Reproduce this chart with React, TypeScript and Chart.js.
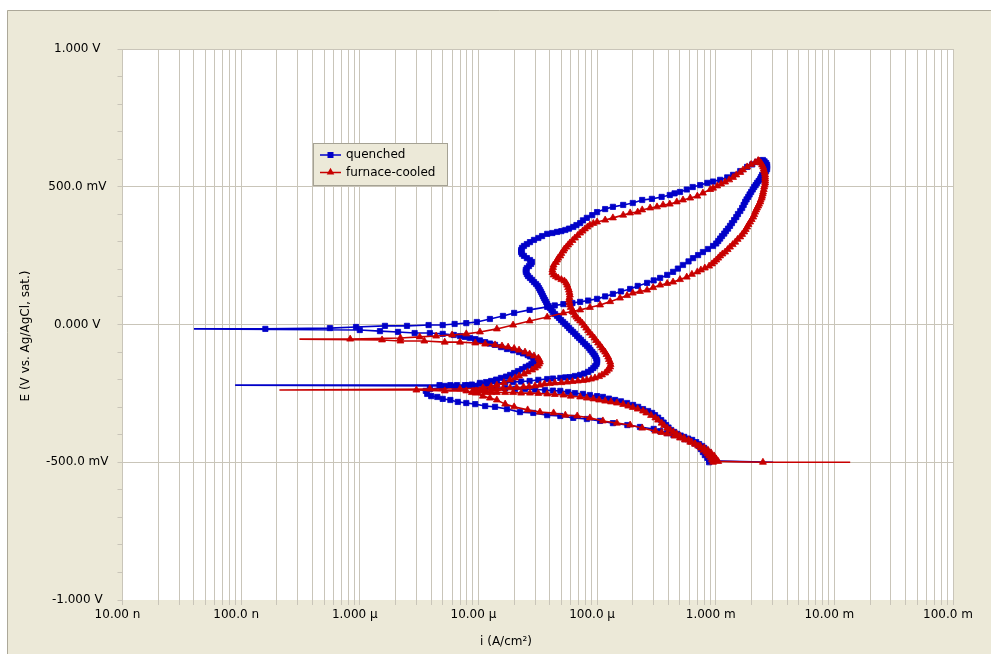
import React, { useEffect, useRef } from 'react';
import { Chart, registerables } from 'chart.js';

Chart.register(...registerables);

// ---------- axis tick values / labels ----------
const xDecades = [1e-8, 1e-7, 1e-6, 1e-5, 1e-4, 1e-3, 1e-2, 1e-1];
const xDecadeLabels = ['10.00 n', '100.0 n', '1.000 \u00B5', '10.00 \u00B5', '100.0 \u00B5', '1.000 m', '10.00 m', '100.0 m'];
const xMinorSteps = [1, 2, 3, 4, 5, 6, 7, 8, 9];
const yMajorValues = [1, 0.5, 0, -0.5, -1];
const yMajorLabels = ['1.000 V', '500.0 mV', '0.000 V', '-500.0 mV', '-1.000 V'];
const seriesNames = ['quenched', 'furnace-cooled'];
const xTitle = 'i (A/cm\u00B2)';
const yTitle = 'E (V vs. Ag/AgCl, sat.)';

// ---------- data: [E (V), i (A/cm²)] in scan order ----------
const quenched: [number, number][] = [
  [-0.500, 3.05e-3], [-0.495, 9.3e-4], [-0.490, 8.8e-4], [-0.484, 8.5e-4], [-0.474, 8.1e-4],
  [-0.463, 7.8e-4], [-0.452, 7.5e-4], [-0.441, 7.2e-4], [-0.432, 6.7e-4], [-0.423, 6.1e-4],
  [-0.416, 5.5e-4], [-0.408, 5.0e-4], [-0.401, 4.4e-4], [-0.394, 3.9e-4], [-0.387, 3.4e-4],
  [-0.379, 3.0e-4], [-0.372, 2.3e-4], [-0.365, 1.8e-4], [-0.358, 1.36e-4], [-0.350, 1.06e-4],
  [-0.343, 8.2e-5], [-0.339, 6.3e-5], [-0.332, 4.9e-5], [-0.329, 3.8e-5], [-0.321, 2.9e-5],
  [-0.318, 2.24e-5], [-0.307, 1.74e-5], [-0.299, 1.38e-5], [-0.296, 1.14e-5], [-0.289, 9.4e-6],
  [-0.285, 7.9e-6], [-0.281, 6.7e-6], [-0.274, 5.8e-6], [-0.270, 5.0e-6], [-0.263, 4.5e-6],
  [-0.260, 4.0e-6], [-0.252, 3.7e-6], [-0.241, 3.6e-6],
  [-0.234, 3.9e-6], [-0.230, 4.9e-6], [-0.227, 6.3e-6], [-0.220, 8.2e-6], [-0.212, 1.03e-5],
  [-0.209, 1.16e-5], [-0.205, 1.28e-5], [-0.200, 1.41e-5], [-0.194, 1.55e-5], [-0.189, 1.71e-5],
  [-0.183, 1.85e-5], [-0.176, 2.0e-5], [-0.169, 2.16e-5], [-0.162, 2.33e-5], [-0.154, 2.5e-5],
  [-0.149, 2.67e-5], [-0.143, 2.8e-5], [-0.138, 2.94e-5], [-0.132, 3.0e-5], [-0.127, 2.97e-5],
  [-0.122, 2.9e-5], [-0.116, 2.72e-5], [-0.111, 2.6e-5], [-0.105, 2.38e-5], [-0.100, 2.2e-5],
  [-0.094, 1.96e-5], [-0.089, 1.74e-5], [-0.082, 1.55e-5], [-0.074, 1.38e-5], [-0.069, 1.25e-5],
  [-0.064, 1.14e-5], [-0.058, 1.03e-5], [-0.053, 9.4e-6], [-0.049, 8.5e-6], [-0.045, 7.7e-6],
  [-0.042, 7.0e-6], [-0.038, 6.2e-6], [-0.034, 5.0e-6], [-0.031, 3.9e-6], [-0.031, 2.9e-6],
  [-0.027, 2.1e-6], [-0.024, 1.48e-6], [-0.020, 1.0e-6], [-0.016, 4.0e-8], [-0.016, 1.6e-7],
  [-0.013, 5.6e-7], [-0.009, 9.3e-7], [-0.005, 1.63e-6], [-0.005, 2.5e-6], [-0.002, 3.8e-6],
  [-0.002, 5.0e-6], [0.002, 6.3e-6], [0.005, 7.9e-6], [0.009, 9.7e-6], [0.020, 1.25e-5],
  [0.031, 1.61e-5], [0.042, 2.0e-5], [0.053, 2.7e-5], [0.064, 3.8e-5], [0.069, 4.4e-5],
  [0.074, 5.2e-5], [0.078, 6.2e-5], [0.082, 7.2e-5], [0.087, 8.4e-5], [0.093, 1.0e-4],
  [0.102, 1.17e-4], [0.111, 1.36e-4], [0.120, 1.59e-4], [0.129, 1.9e-4], [0.140, 2.2e-4],
  [0.151, 2.64e-4], [0.160, 3.0e-4], [0.169, 3.4e-4], [0.180, 3.9e-4], [0.191, 4.37e-4],
  [0.203, 4.8e-4], [0.216, 5.3e-4], [0.229, 5.9e-4], [0.241, 6.45e-4], [0.252, 7.1e-4],
  [0.263, 7.8e-4], [0.274, 8.6e-4], [0.285, 9.5e-4], [0.294, 1.01e-3], [0.303, 1.05e-3],
  [0.312, 1.09e-3], [0.321, 1.13e-3], [0.330, 1.18e-3], [0.339, 1.22e-3], [0.348, 1.27e-3],
  [0.358, 1.32e-3], [0.368, 1.37e-3], [0.379, 1.43e-3], [0.390, 1.49e-3], [0.401, 1.54e-3],
  [0.412, 1.61e-3], [0.423, 1.67e-3], [0.434, 1.72e-3], [0.445, 1.77e-3], [0.454, 1.82e-3],
  [0.463, 1.88e-3], [0.472, 1.93e-3], [0.481, 1.99e-3], [0.490, 2.05e-3], [0.499, 2.11e-3],
  [0.506, 2.17e-3], [0.514, 2.23e-3], [0.521, 2.30e-3], [0.528, 2.37e-3], [0.535, 2.41e-3],
  [0.543, 2.46e-3], [0.550, 2.56e-3], [0.557, 2.66e-3], [0.564, 2.71e-3], [0.572, 2.71e-3],
  [0.579, 2.71e-3], [0.586, 2.66e-3], [0.592, 2.58e-3], [0.597, 2.5e-3],
  // reverse scan
  [0.595, 2.37e-3], [0.590, 2.23e-3], [0.581, 2.03e-3], [0.572, 1.84e-3], [0.557, 1.61e-3],
  [0.543, 1.40e-3], [0.534, 1.25e-3], [0.525, 1.09e-3], [0.519, 9.5e-4], [0.514, 8.5e-4],
  [0.506, 7.4e-4], [0.499, 6.4e-4], [0.490, 5.7e-4], [0.481, 5.0e-4], [0.476, 4.5e-4],
  [0.470, 4.1e-4], [0.463, 3.5e-4], [0.456, 2.9e-4], [0.452, 2.4e-4], [0.441, 2.0e-4],
  [0.434, 1.66e-4], [0.427, 1.36e-4], [0.419, 1.17e-4], [0.408, 1.0e-4], [0.397, 9.1e-5],
  [0.387, 8.2e-5], [0.378, 7.6e-5], [0.368, 7.2e-5], [0.361, 6.7e-5], [0.354, 6.3e-5],
  [0.348, 5.8e-5], [0.343, 5.4e-5], [0.339, 5.0e-5], [0.336, 4.6e-5], [0.332, 4.2e-5],
  [0.329, 3.8e-5], [0.321, 3.44e-5], [0.314, 3.2e-5], [0.307, 2.94e-5], [0.299, 2.72e-5],
  [0.292, 2.56e-5], [0.285, 2.42e-5], [0.278, 2.33e-5], [0.270, 2.29e-5], [0.263, 2.29e-5],
  [0.256, 2.33e-5], [0.249, 2.42e-5], [0.241, 2.56e-5], [0.234, 2.72e-5], [0.227, 2.83e-5],
  [0.220, 2.78e-5], [0.212, 2.67e-5], [0.205, 2.56e-5], [0.198, 2.51e-5], [0.191, 2.51e-5],
  [0.183, 2.56e-5], [0.176, 2.62e-5], [0.169, 2.72e-5], [0.162, 2.83e-5], [0.154, 2.94e-5],
  [0.147, 3.06e-5], [0.140, 3.16e-5], [0.132, 3.24e-5], [0.125, 3.31e-5], [0.118, 3.37e-5],
  [0.111, 3.44e-5], [0.103, 3.5e-5], [0.096, 3.57e-5], [0.089, 3.64e-5], [0.082, 3.72e-5],
  [0.074, 3.79e-5], [0.067, 3.9e-5], [0.060, 4.01e-5], [0.053, 4.13e-5], [0.045, 4.25e-5],
  [0.038, 4.42e-5], [0.031, 4.6e-5], [0.024, 4.78e-5], [0.016, 4.97e-5], [0.009, 5.17e-5],
  [0.002, 5.38e-5], [-0.005, 5.6e-5], [-0.013, 5.81e-5], [-0.020, 6.04e-5], [-0.027, 6.28e-5],
  [-0.034, 6.53e-5], [-0.042, 6.79e-5], [-0.049, 7.06e-5], [-0.056, 7.33e-5], [-0.064, 7.62e-5],
  [-0.071, 7.93e-5], [-0.078, 8.24e-5], [-0.085, 8.57e-5], [-0.093, 8.8e-5], [-0.100, 9.12e-5],
  [-0.107, 9.35e-5], [-0.114, 9.64e-5], [-0.122, 9.8e-5], [-0.129, 1.0e-4], [-0.136, 1.0e-4],
  [-0.143, 9.9e-5], [-0.151, 9.64e-5], [-0.158, 9.3e-5], [-0.165, 8.9e-5], [-0.172, 8.4e-5],
  [-0.178, 7.8e-5], [-0.183, 7.2e-5], [-0.187, 6.5e-5], [-0.191, 5.9e-5], [-0.192, 5.4e-5],
  [-0.194, 4.9e-5], [-0.196, 4.25e-5], [-0.198, 3.8e-5], [-0.201, 3.2e-5], [-0.205, 2.7e-5],
  [-0.207, 2.29e-5], [-0.209, 1.96e-5], [-0.211, 1.68e-5], [-0.212, 1.43e-5], [-0.214, 1.2e-5],
  [-0.216, 1.03e-5], [-0.218, 8.8e-6], [-0.220, 7.7e-6], [-0.220, 6.6e-6], [-0.220, 5.8e-6],
  [-0.220, 4.7e-6], [-0.220, 8.9e-8], [-0.223, 5.2e-6], [-0.225, 6.35e-6], [-0.227, 7.7e-6],
  [-0.229, 9.4e-6], [-0.230, 1.14e-5], [-0.230, 1.38e-5], [-0.232, 1.68e-5], [-0.234, 2.04e-5],
  [-0.234, 2.47e-5], [-0.236, 3.0e-5], [-0.238, 3.64e-5], [-0.240, 4.25e-5], [-0.241, 4.9e-5],
  [-0.245, 5.7e-5], [-0.249, 6.5e-5], [-0.252, 7.6e-5], [-0.256, 8.7e-5], [-0.260, 1.0e-4],
  [-0.263, 1.12e-4], [-0.269, 1.26e-4], [-0.274, 1.42e-4], [-0.279, 1.59e-4], [-0.285, 1.79e-4],
  [-0.292, 2.01e-4], [-0.299, 2.22e-4], [-0.307, 2.44e-4], [-0.314, 2.69e-4], [-0.321, 2.91e-4],
  [-0.329, 3.08e-4], [-0.338, 3.27e-4], [-0.347, 3.47e-4], [-0.356, 3.64e-4], [-0.365, 3.82e-4],
  [-0.374, 4.0e-4], [-0.383, 4.21e-4], [-0.390, 4.46e-4], [-0.397, 4.73e-4], [-0.403, 5.06e-4],
  [-0.408, 5.42e-4], [-0.414, 5.85e-4], [-0.419, 6.33e-4], [-0.427, 6.84e-4], [-0.434, 7.25e-4],
  [-0.441, 7.68e-4], [-0.448, 7.99e-4], [-0.456, 8.3e-4], [-0.463, 8.63e-4], [-0.470, 8.8e-4],
  [-0.477, 8.98e-4], [-0.484, 8.98e-4], [-0.492, 8.98e-4], [-0.500, 8.8e-4],
];

const furnaceCooled: [number, number][] = [
  [-0.500, 1.36e-2], [-0.500, 2.5e-3], [-0.497, 1.05e-3], [-0.488, 1.01e-3], [-0.477, 9.7e-4],
  [-0.466, 9.15e-4], [-0.456, 8.6e-4], [-0.448, 8.0e-4], [-0.441, 7.4e-4], [-0.434, 6.7e-4],
  [-0.427, 6.1e-4], [-0.419, 5.5e-4], [-0.412, 5.0e-4], [-0.405, 4.5e-4], [-0.397, 3.9e-4],
  [-0.392, 3.5e-4], [-0.387, 3.1e-4], [-0.376, 2.4e-4], [-0.365, 1.9e-4], [-0.358, 1.47e-4],
  [-0.350, 1.12e-4], [-0.339, 8.7e-5], [-0.332, 6.8e-5], [-0.329, 5.4e-5], [-0.321, 4.3e-5],
  [-0.318, 3.3e-5], [-0.310, 2.6e-5], [-0.299, 2.0e-5], [-0.289, 1.68e-5], [-0.274, 1.43e-5],
  [-0.267, 1.25e-5], [-0.260, 1.09e-5], [-0.249, 9.5e-6], [-0.241, 7.9e-6], [-0.241, 5.2e-6],
  [-0.238, 3.0e-6], [-0.238, 2.1e-7],
  [-0.234, 3.9e-6], [-0.234, 7.0e-6], [-0.230, 1.09e-5], [-0.225, 1.28e-5], [-0.220, 1.43e-5],
  [-0.211, 1.64e-5], [-0.201, 1.85e-5], [-0.194, 2.04e-5], [-0.187, 2.2e-5], [-0.180, 2.42e-5],
  [-0.172, 2.6e-5], [-0.165, 2.83e-5], [-0.158, 3.0e-5], [-0.151, 3.16e-5], [-0.143, 3.24e-5],
  [-0.136, 3.3e-5], [-0.129, 3.28e-5], [-0.122, 3.2e-5], [-0.114, 2.94e-5], [-0.107, 2.7e-5],
  [-0.100, 2.47e-5], [-0.093, 2.2e-5], [-0.087, 2.0e-5], [-0.082, 1.78e-5], [-0.078, 1.58e-5],
  [-0.074, 1.38e-5], [-0.071, 1.14e-5], [-0.067, 9.4e-6], [-0.064, 7.0e-6], [-0.064, 5.2e-6],
  [-0.060, 3.5e-6], [-0.060, 2.2e-6], [-0.056, 1.54e-6], [-0.053, 3.1e-7], [-0.053, 8.3e-7],
  [-0.049, 2.2e-6], [-0.045, 3.2e-6], [-0.042, 4.4e-6], [-0.038, 6.0e-6], [-0.034, 7.9e-6],
  [-0.027, 1.03e-5], [-0.016, 1.43e-5], [-0.002, 1.96e-5], [0.013, 2.7e-5], [0.027, 3.8e-5],
  [0.042, 5.2e-5], [0.047, 6.2e-5], [0.053, 7.2e-5], [0.062, 8.7e-5], [0.071, 1.06e-4],
  [0.083, 1.29e-4], [0.096, 1.56e-4], [0.105, 1.79e-4], [0.114, 2.0e-4], [0.120, 2.3e-4],
  [0.125, 2.64e-4], [0.134, 2.97e-4], [0.143, 3.4e-4], [0.149, 3.9e-4], [0.154, 4.37e-4],
  [0.163, 5.0e-4], [0.172, 5.7e-4], [0.182, 6.3e-4], [0.191, 7.0e-4], [0.198, 7.5e-4],
  [0.205, 8.1e-4], [0.212, 8.8e-4], [0.220, 9.3e-4], [0.227, 9.7e-4], [0.234, 1.01e-3],
  [0.241, 1.05e-3], [0.249, 1.09e-3], [0.256, 1.14e-3], [0.263, 1.2e-3], [0.272, 1.26e-3],
  [0.281, 1.32e-3], [0.290, 1.39e-3], [0.299, 1.46e-3], [0.309, 1.53e-3], [0.318, 1.61e-3],
  [0.327, 1.67e-3], [0.336, 1.74e-3], [0.345, 1.79e-3], [0.354, 1.84e-3], [0.363, 1.89e-3],
  [0.372, 1.95e-3], [0.381, 2.01e-3], [0.390, 2.07e-3], [0.399, 2.11e-3], [0.408, 2.15e-3],
  [0.416, 2.19e-3], [0.423, 2.23e-3], [0.430, 2.28e-3], [0.437, 2.32e-3], [0.445, 2.37e-3],
  [0.452, 2.39e-3], [0.459, 2.44e-3], [0.466, 2.46e-3], [0.474, 2.49e-3], [0.481, 2.51e-3],
  [0.490, 2.54e-3], [0.499, 2.56e-3], [0.506, 2.59e-3], [0.514, 2.61e-3], [0.521, 2.61e-3],
  [0.528, 2.61e-3], [0.535, 2.61e-3], [0.543, 2.61e-3], [0.550, 2.59e-3], [0.557, 2.56e-3],
  [0.564, 2.54e-3], [0.572, 2.51e-3], [0.579, 2.46e-3], [0.586, 2.41e-3], [0.592, 2.34e-3],
  [0.595, 2.28e-3],
  // reverse scan
  [0.588, 2.15e-3], [0.581, 1.99e-3], [0.572, 1.84e-3], [0.561, 1.70e-3], [0.552, 1.61e-3],
  [0.543, 1.49e-3], [0.534, 1.40e-3], [0.525, 1.30e-3], [0.517, 1.2e-3], [0.510, 1.11e-3],
  [0.503, 1.03e-3], [0.495, 9.5e-4], [0.490, 9.0e-4], [0.477, 7.8e-4], [0.466, 7.0e-4],
  [0.459, 6.1e-4], [0.452, 5.3e-4], [0.445, 4.7e-4], [0.437, 4.1e-4], [0.434, 3.6e-4],
  [0.427, 3.2e-4], [0.423, 2.8e-4], [0.416, 2.4e-4], [0.408, 2.2e-4], [0.405, 1.9e-4],
  [0.397, 1.66e-4], [0.387, 1.36e-4], [0.379, 1.17e-4], [0.372, 1.0e-4], [0.367, 9.3e-5],
  [0.361, 8.7e-5], [0.354, 8.3e-5], [0.347, 7.9e-5], [0.339, 7.55e-5], [0.332, 7.2e-5],
  [0.323, 6.85e-5], [0.314, 6.5e-5], [0.305, 6.2e-5], [0.296, 5.9e-5], [0.289, 5.7e-5],
  [0.281, 5.5e-5], [0.274, 5.3e-5], [0.267, 5.2e-5], [0.258, 5.0e-5], [0.249, 4.9e-5],
  [0.241, 4.7e-5], [0.234, 4.6e-5], [0.225, 4.5e-5], [0.216, 4.3e-5], [0.207, 4.25e-5],
  [0.198, 4.2e-5], [0.189, 4.2e-5], [0.180, 4.3e-5], [0.174, 4.5e-5], [0.169, 4.7e-5],
  [0.163, 5.0e-5], [0.158, 5.3e-5], [0.151, 5.5e-5], [0.143, 5.6e-5], [0.134, 5.7e-5],
  [0.125, 5.8e-5], [0.116, 5.85e-5], [0.107, 5.9e-5], [0.098, 5.85e-5], [0.089, 5.8e-5],
  [0.080, 5.85e-5], [0.071, 5.9e-5], [0.062, 6.0e-5], [0.053, 6.2e-5], [0.044, 6.35e-5],
  [0.034, 6.5e-5], [0.027, 6.7e-5], [0.020, 6.9e-5], [0.013, 7.2e-5], [0.005, 7.5e-5],
  [-0.004, 7.8e-5], [-0.013, 8.1e-5], [-0.022, 8.4e-5], [-0.031, 8.7e-5], [-0.040, 9.1e-5],
  [-0.049, 9.5e-5], [-0.058, 9.8e-5], [-0.067, 1.02e-4], [-0.076, 1.06e-4], [-0.085, 1.1e-4],
  [-0.093, 1.13e-4], [-0.100, 1.17e-4], [-0.109, 1.2e-4], [-0.118, 1.24e-4], [-0.127, 1.26e-4],
  [-0.136, 1.29e-4], [-0.145, 1.3e-4], [-0.154, 1.29e-4], [-0.162, 1.26e-4], [-0.169, 1.21e-4],
  [-0.176, 1.17e-4], [-0.183, 1.1e-4], [-0.189, 1.04e-4], [-0.194, 9.6e-5], [-0.198, 8.9e-5],
  [-0.201, 8.2e-5], [-0.203, 7.6e-5], [-0.205, 6.9e-5], [-0.207, 6.2e-5], [-0.209, 5.6e-5],
  [-0.211, 5.0e-5], [-0.212, 4.4e-5], [-0.214, 4.0e-5], [-0.216, 3.6e-5], [-0.220, 3.3e-5],
  [-0.223, 3.0e-5], [-0.225, 2.67e-5], [-0.227, 2.4e-5], [-0.229, 2.1e-5], [-0.230, 1.85e-5],
  [-0.232, 1.61e-5], [-0.234, 1.43e-5], [-0.236, 1.28e-5], [-0.238, 1.14e-5], [-0.240, 1.03e-5],
  [-0.241, 9.5e-6], [-0.243, 9.0e-6], [-0.247, 8.8e-6], [-0.247, 9.9e-6], [-0.247, 1.14e-5],
  [-0.247, 1.28e-5], [-0.247, 1.43e-5], [-0.247, 1.68e-5], [-0.247, 1.96e-5], [-0.249, 2.29e-5],
  [-0.249, 2.72e-5], [-0.250, 3.2e-5], [-0.252, 3.8e-5], [-0.254, 4.4e-5], [-0.256, 5.2e-5],
  [-0.260, 6.0e-5], [-0.263, 7.2e-5], [-0.267, 8.2e-5], [-0.270, 9.3e-5], [-0.274, 1.04e-4],
  [-0.278, 1.17e-4], [-0.281, 1.31e-4], [-0.285, 1.47e-4], [-0.290, 1.66e-4], [-0.296, 1.83e-4],
  [-0.301, 2.0e-4], [-0.307, 2.2e-4], [-0.314, 2.44e-4], [-0.321, 2.6e-4], [-0.330, 2.85e-4],
  [-0.339, 3.1e-4], [-0.347, 3.27e-4], [-0.358, 3.5e-4], [-0.367, 3.67e-4], [-0.376, 3.9e-4],
  [-0.383, 4.13e-4], [-0.390, 4.4e-4], [-0.397, 4.68e-4], [-0.405, 5.0e-4], [-0.412, 5.4e-4],
  [-0.419, 5.9e-4], [-0.427, 6.27e-4], [-0.434, 6.7e-4], [-0.441, 7.1e-4], [-0.448, 7.5e-4],
  [-0.456, 7.9e-4], [-0.463, 8.3e-4], [-0.470, 8.55e-4], [-0.477, 8.8e-4], [-0.484, 9.1e-4],
  [-0.492, 9.3e-4], [-0.500, 9.5e-4],
];

// ---------- styling ----------
const BLUE = '#0000C8';
const RED = '#C80000';
const GRID = '#C9C5B9';
const PANEL = '#ECE9D8';
const FONT = "'DejaVu Sans', 'Liberation Sans', sans-serif";

const toXY = (pts: [number, number][]) => pts.map(([e, i]) => ({ x: i, y: e }));

// a point whose current is an isolated extreme (zero-crossing spike) is drawn without marker
const isSpike = (pts: [number, number][], k: number) => {
  if (!pts[k]) return false;
  const l = Math.log10(pts[k][1]);
  const d: number[] = [];
  if (k > 0) d.push(Math.log10(pts[k - 1][1]) - l);
  if (k < pts.length - 1) d.push(Math.log10(pts[k + 1][1]) - l);
  return d.every((v) => Math.abs(v) > 0.3) && (d.every((v) => v > 0) || d.every((v) => v < 0));
};

const xTickValues: number[] = [];
xDecades.forEach((d, k) => {
  if (k === xDecades.length - 1) xTickValues.push(d);
  else xMinorSteps.forEach((s) => xTickValues.push(d * s));
});

const decadeIndex = (v: number) => {
  const l = Math.log10(v);
  if (Math.abs(l - Math.round(l)) > 1e-6) return -1;
  return xDecades.findIndex((d) => Math.abs(Math.log10(d) - l) < 1e-6);
};

const yMajorIndex = (v: number) => yMajorValues.findIndex((m) => Math.abs(m - v) < 1e-6);

const drawSquare = (ctx: CanvasRenderingContext2D, x: number, y: number, s: number) => {
  ctx.fillRect(x - s / 2, y - s / 2, s, s);
};
const drawTriangle = (ctx: CanvasRenderingContext2D, x: number, y: number, r: number) => {
  ctx.beginPath();
  ctx.moveTo(x, y - r);
  ctx.lineTo(x + r * 0.9, y + r * 0.6);
  ctx.lineTo(x - r * 0.9, y + r * 0.6);
  ctx.closePath();
  ctx.fill();
};

const framePlugin = {
  id: 'frame',
  beforeDraw(chart: any) {
    const { ctx, chartArea: a, width, height } = chart;
    ctx.save();
    ctx.fillStyle = '#ffffff';
    ctx.fillRect(0, 0, width, height);
    ctx.fillStyle = PANEL;
    ctx.fillRect(7, 10, width - 7, height - 10);
    ctx.strokeStyle = '#ACA899';
    ctx.lineWidth = 1;
    ctx.beginPath();
    ctx.moveTo(7.5, height);
    ctx.lineTo(7.5, 10.5);
    ctx.lineTo(width, 10.5);
    ctx.stroke();
    ctx.fillStyle = '#ffffff';
    ctx.fillRect(a.left, a.top, a.right - a.left, a.bottom - a.top);
    ctx.restore();
  },
  afterDraw(chart: any) {
    const { ctx } = chart;
    ctx.save();
    // axis titles
    ctx.fillStyle = '#000';
    ctx.font = `12px ${FONT}`;
    ctx.textAlign = 'center';
    ctx.textBaseline = 'middle';
    ctx.fillText(xTitle, 506, 642);
    ctx.translate(26, 336);
    ctx.rotate(-Math.PI / 2);
    ctx.fillText(yTitle, 0, 0);
    ctx.restore();

    // legend
    ctx.save();
    const bx = 313.5, by = 143.5, bw = 134, bh = 42;
    ctx.fillStyle = PANEL;
    ctx.fillRect(bx, by, bw, bh);
    ctx.strokeStyle = '#A5A294';
    ctx.lineWidth = 1;
    ctx.strokeRect(bx, by, bw, bh);
    const rows = [
      { y: 155, color: BLUE, shape: 'rect' },
      { y: 172.5, color: RED, shape: 'tri' },
    ];
    rows.forEach((r, k) => {
      ctx.strokeStyle = r.color;
      ctx.fillStyle = r.color;
      ctx.lineWidth = 1.5;
      ctx.beginPath();
      ctx.moveTo(320, r.y);
      ctx.lineTo(341, r.y);
      ctx.stroke();
      if (r.shape === 'rect') drawSquare(ctx, 330.5, r.y, 6);
      else drawTriangle(ctx, 330.5, r.y - 0.5, 4.2);
      ctx.fillStyle = '#000';
      ctx.font = `12px ${FONT}`;
      ctx.textAlign = 'left';
      ctx.textBaseline = 'middle';
      ctx.fillText(seriesNames[k], 346, r.y);
    });
    ctx.restore();
  },
};

export default function App() {
  const ref = useRef<HTMLCanvasElement | null>(null);

  useEffect(() => {
    document.body.style.margin = '0';
    const canvas = ref.current;
    if (!canvas) return;
    Chart.defaults.font.family = FONT;
    Chart.defaults.font.size = 12;
    Chart.defaults.color = '#000';

    const chart = new Chart(canvas, {
      type: 'scatter',
      data: {
        datasets: [
          {
            label: seriesNames[1],
            data: toXY(furnaceCooled),
            showLine: true,
            borderColor: RED,
            backgroundColor: RED,
            borderWidth: 1.6,
            pointStyle: 'triangle',
            pointRadius: (c: any) => (isSpike(furnaceCooled, c.dataIndex) ? 0 : 4),
            pointBorderWidth: 0.8,
            pointBorderColor: RED,
            pointBackgroundColor: RED,
            order: 1,
          },
          {
            label: seriesNames[0],
            data: toXY(quenched),
            showLine: true,
            borderColor: BLUE,
            backgroundColor: BLUE,
            borderWidth: 1.6,
            pointStyle: 'rect',
            pointRadius: (c: any) => (isSpike(quenched, c.dataIndex) ? 0 : 3.7),
            pointBorderWidth: 0.8,
            pointBorderColor: BLUE,
            pointBackgroundColor: BLUE,
            order: 2,
          },
        ],
      },
      options: {
        animation: false,
        responsive: false,
        maintainAspectRatio: false,
        events: [],
        layout: { padding: { top: 49, right: 38, bottom: 0, left: 0 } },
        plugins: { legend: { display: false }, tooltip: { enabled: false }, title: { display: false } },
        scales: {
          x: {
            type: 'logarithmic',
            position: 'bottom',
            min: 1e-8,
            max: 1e-1,
            afterBuildTicks: (s: any) => {
              s.ticks = xTickValues.map((v) => ({ value: v }));
            },
            afterFit: (s: any) => {
              s.height = 54;
            },
            border: { display: false },
            grid: { color: GRID, lineWidth: 1, drawTicks: true, tickLength: 5, tickColor: GRID },
            ticks: {
              autoSkip: false,
              maxRotation: 0,
              minRotation: 0,
              padding: 3,
              labelOffset: -5,
              color: '#000',
              font: { size: 12, family: FONT },
              callback: (v: any) => {
                const k = decadeIndex(Number(v));
                return k >= 0 ? xDecadeLabels[k] : '';
              },
            },
          },
          y: {
            type: 'linear',
            position: 'left',
            min: -1,
            max: 1,
            afterFit: (s: any) => {
              s.width = 122.5;
            },
            border: { display: true, color: GRID, width: 1 },
            grid: {
              color: (c: any) => {
                const v = c.tick ? c.tick.value : 0;
                const k = yMajorIndex(v);
                return k >= 0 && k < yMajorValues.length - 1 ? GRID : 'rgba(0,0,0,0)';
              },
              lineWidth: 1,
              drawTicks: true,
              tickLength: 5,
              tickColor: GRID,
            },
            ticks: {
              stepSize: 0.1,
              autoSkip: false,
              padding: 9,
              crossAlign: 'center',
              color: '#000',
              font: { size: 12, family: FONT },
              callback: (v: any) => {
                const k = yMajorIndex(Number(v));
                return k >= 0 ? yMajorLabels[k] : '';
              },
            },
          },
        },
      } as any,
      plugins: [framePlugin],
    });

    return () => chart.destroy();
  }, []);

  return (
    <div style={{ position: 'relative', width: 991, height: 654 }}>
      <canvas ref={ref} width={991} height={654} style={{ display: 'block', width: 991, height: 654 }} />
    </div>
  );
}
